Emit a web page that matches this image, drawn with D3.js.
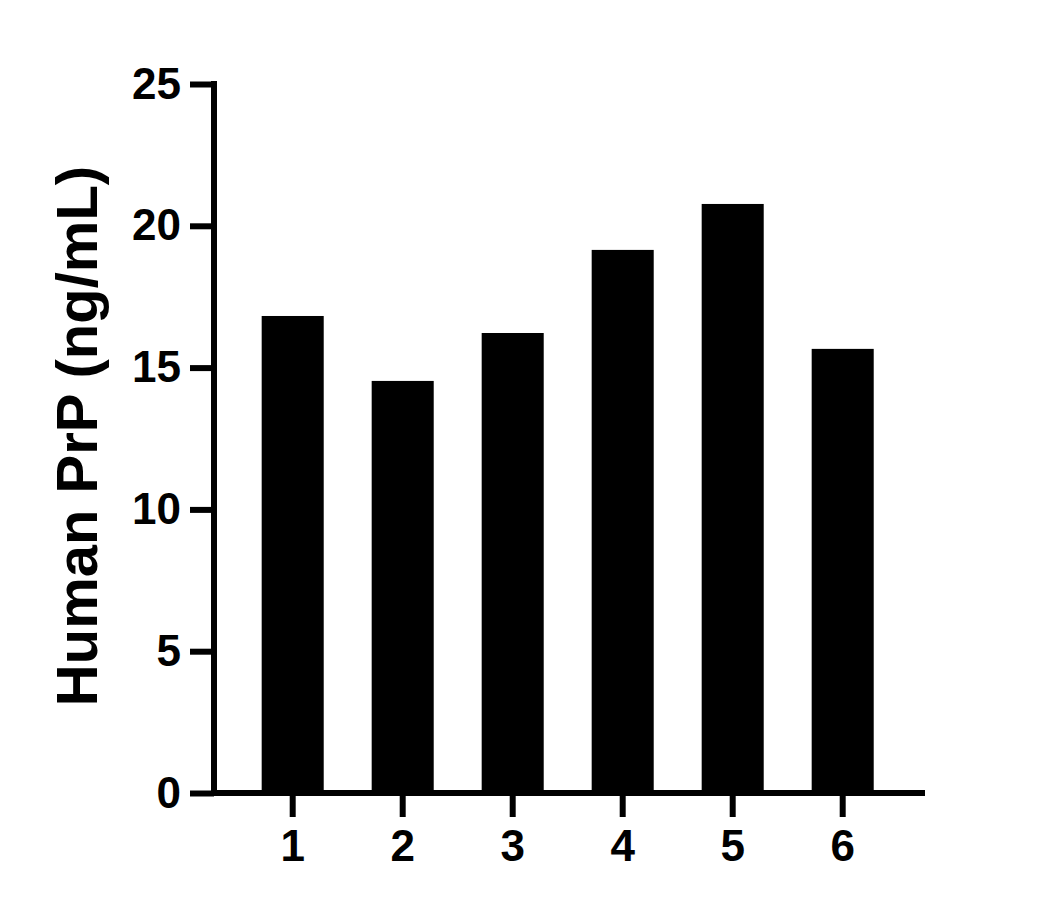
<!DOCTYPE html>
<html>
<head>
<meta charset="utf-8">
<script src="https://cdn.jsdelivr.net/npm/d3@7/dist/d3.min.js"></script>
<style>
  body { margin: 0; background: #fff; }
  svg { display: block; }
  .tick text { font-family: "Liberation Sans", Arial, sans-serif; font-weight: bold; }
</style>
</head>
<body>
<svg id="viz" width="1056" height="910"></svg>
<script>
// samples and measured concentration
const samples = ["1", "2", "3", "4", "5", "6"];
const prpValues = [16.82, 14.53, 16.22, 19.15, 20.77, 15.66];
const yTicks = [0, 5, 10, 15, 20, 25];
const yTitle = "Human PrP (ng/mL)";

const svg = d3.select("#viz");
const lineW = 6;

const y = d3.scaleLinear().domain([0, 25]).range([793, 84]);

// step 110px, bar 62px wide
const x = d3
  .scaleBand()
  .domain(samples)
  .range([237.7, 897.7])
  .paddingInner(0.436)
  .paddingOuter(0.218);

// bars
svg
  .selectAll(".bar")
  .data(prpValues)
  .enter()
  .append("rect")
  .attr("class", "bar")
  .attr("x", (d, i) => x(samples[i]))
  .attr("y", (d) => y(d))
  .attr("width", x.bandwidth())
  .attr("height", (d) => y(0) - y(d))
  .style("fill", "#000");

// y axis
const yAxis = svg
  .append("g")
  .attr("transform", "translate(214,0)")
  .call(d3.axisLeft(y).tickValues(yTicks).tickSize(24).tickSizeOuter(0).tickPadding(9));
yAxis.select(".domain").remove();
yAxis.selectAll(".tick line").attr("stroke", "#000").attr("stroke-width", lineW);
yAxis.selectAll(".tick text").style("font-size", "44px").attr("fill", "#000");
yAxis
  .append("line")
  .attr("x1", 0)
  .attr("x2", 0)
  .attr("y1", y(25) - lineW / 2)
  .attr("y2", y(0) + lineW / 2)
  .attr("stroke", "#000")
  .attr("stroke-width", lineW);

// x axis
const xAxis = svg
  .append("g")
  .attr("transform", "translate(0,793)")
  .call(d3.axisBottom(x).tickSize(24).tickSizeOuter(0).tickPadding(13));
xAxis.select(".domain").remove();
xAxis.selectAll(".tick line").attr("stroke", "#000").attr("stroke-width", lineW);
xAxis.selectAll(".tick text").style("font-size", "44px").attr("fill", "#000");
xAxis
  .append("line")
  .attr("x1", 211)
  .attr("x2", 925)
  .attr("y1", 0)
  .attr("y2", 0)
  .attr("stroke", "#000")
  .attr("stroke-width", lineW);

// y title
svg
  .append("text")
  .attr("transform", "translate(97,436) rotate(-90)")
  .attr("text-anchor", "middle")
  .style("font-family", '"Liberation Sans", Arial, sans-serif')
  .style("font-weight", "bold")
  .style("font-size", "58px")
  .style("fill", "#000")
  .text(yTitle);
</script>
</body>
</html>
